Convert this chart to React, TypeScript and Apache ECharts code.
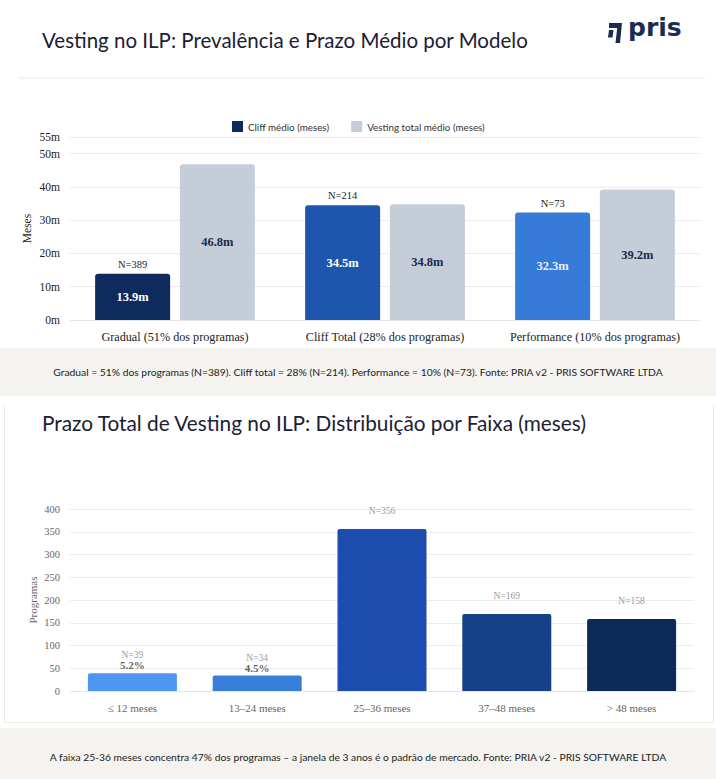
import React, { useEffect, useRef } from 'react';
import * as echarts from 'echarts';

// ---- Chart 1 data ----
const modelCategories = ['Gradual (51% dos programas)', 'Cliff Total (28% dos programas)', 'Performance (10% dos programas)'];
const cliffMedio = [13.9, 34.5, 32.3];
const vestingTotalMedio = [46.8, 34.8, 39.2];
const modelN = [389, 214, 73];
const cliffColors = ['#0f2a5c', '#1e55ad', '#377bd8'];
const cliffLabelColors = ['#ffffff', '#ffffff', '#e6eefa'];

// ---- Chart 2 data ----
const faixaCategories = ['≤ 12 meses', '13–24 meses', '25–36 meses', '37–48 meses', '> 48 meses'];
const faixaProgramas = [39, 34, 356, 169, 158];
const faixaPct = ['5.2%', '4.5%', '', '', ''];
const faixaColors = ['#4f95f2', '#377dd9', '#1d4dae', '#154189', '#0e2a58'];

const SERIF = 'Liberation Serif';
const SANS = 'Lato';

export default function App() {
  const ref = useRef<HTMLDivElement>(null);

  useEffect(() => {
    document.body.style.margin = '0';
    if (!ref.current) return;
    const chart = echarts.init(ref.current, undefined, { renderer: 'svg' });

    const option: any = {
      animation: false,
      textStyle: { fontFamily: SERIF },
      legend: {
        data: ['Cliff médio (meses)', 'Vesting total médio (meses)'],
        left: 227,
        top: 116,
        itemWidth: 11,
        itemHeight: 11,
        itemGap: 22,
        icon: 'rect',
        textStyle: { fontFamily: SANS, fontSize: 9.8, color: '#333' },
      },
      grid: [
        { left: 70, right: 16, top: 137, height: 183 },
        { left: 70, right: 22, top: 509, height: 182 },
      ],
      xAxis: [
        {
          type: 'category',
          gridIndex: 0,
          data: modelCategories,
          axisTick: { show: false },
          axisLine: { lineStyle: { color: '#e6e6e6' } },
          axisLabel: { color: '#222', fontSize: 12.2, margin: 11, interval: 0, fontFamily: SERIF },
        },
        {
          type: 'category',
          gridIndex: 1,
          data: faixaCategories,
          axisTick: { show: false },
          axisLine: { lineStyle: { color: '#e6e6e6' } },
          axisLabel: { color: '#666', fontSize: 11, margin: 11, interval: 0, fontFamily: SERIF },
        },
      ],
      yAxis: [
        {
          type: 'value',
          gridIndex: 0,
          min: 0,
          max: 55,
          interval: 10,
          name: 'Meses',
          nameLocation: 'middle',
          nameGap: 37,
          nameMoveOverlap: false,
          nameTextStyle: { color: '#222', fontSize: 11.5, fontFamily: SERIF },
          axisLabel: { formatter: '{value}m', color: '#222', fontSize: 11.5, margin: 10, fontFamily: SERIF },
          splitLine: { lineStyle: { color: '#ececec' } },
        },
        {
          type: 'value',
          gridIndex: 1,
          min: 0,
          max: 400,
          interval: 50,
          name: 'Programas',
          nameLocation: 'middle',
          nameGap: 32,
          nameMoveOverlap: false,
          nameTextStyle: { color: '#666', fontSize: 11, fontFamily: SERIF },
          axisLabel: { color: '#666', fontSize: 10.5, margin: 10, fontFamily: SERIF },
          splitLine: { lineStyle: { color: '#ececec' } },
        },
      ],
      series: [
        {
          name: 'Cliff médio (meses)',
          type: 'bar',
          xAxisIndex: 0,
          yAxisIndex: 0,
          stack: 'cliff',
          barWidth: 75,
          barGap: '13%',
          itemStyle: { color: cliffColors[0], borderRadius: [3, 3, 0, 0] },
          data: cliffMedio.map((v, i) => ({
            value: v,
            itemStyle: { color: cliffColors[i] },
            label: { color: cliffLabelColors[i] },
          })),
          label: {
            show: true,
            position: 'inside',
            formatter: (p: any) => `${p.value}m`,
            fontSize: 12.5,
            fontWeight: 'bold',
            fontFamily: SERIF,
          },
        },
        {
          name: 'Vesting total médio (meses)',
          type: 'bar',
          xAxisIndex: 0,
          yAxisIndex: 0,
          stack: 'vesting',
          barWidth: 75,
          barGap: '13%',
          itemStyle: { color: '#c5cdd8', borderRadius: [3, 3, 0, 0] },
          data: vestingTotalMedio,
          label: {
            show: true,
            position: 'inside',
            formatter: (p: any) => `${p.value}m`,
            color: '#1e2a4a',
            fontSize: 12.5,
            fontWeight: 'bold',
            fontFamily: SERIF,
          },
        },
        {
          name: 'nCliff',
          type: 'bar',
          xAxisIndex: 0,
          yAxisIndex: 0,
          stack: 'cliff',
          barWidth: 75,
          barGap: '13%',
          itemStyle: { color: 'transparent' },
          data: modelN.map(() => 0),
          label: {
            show: true,
            position: 'top',
            distance: 4,
            formatter: (p: any) => `N=${modelN[p.dataIndex]}`,
            color: '#222',
            fontSize: 10.5,
            fontFamily: SERIF,
          },
        },
        {
          name: 'Programas',
          type: 'bar',
          xAxisIndex: 1,
          yAxisIndex: 1,
          barWidth: 89,
          data: faixaProgramas.map((v, i) => ({ value: v, itemStyle: { color: faixaColors[i] } })),
          itemStyle: { borderRadius: [2, 2, 0, 0] },
          label: {
            show: true,
            position: 'top',
            distance: 3,
            formatter: (p: any) => {
              const pct = faixaPct[p.dataIndex];
              return `{n|N=${p.value}}\n{p|${pct ? pct : ' '}}`;
            },
            rich: {
              n: { color: '#9a9a9a', fontSize: 9.5, lineHeight: 10, fontFamily: SERIF },
              p: { color: '#666', fontSize: 11, fontWeight: 'bold', lineHeight: 10, fontFamily: SERIF },
            },
          },
        },
      ],
      graphic: [
        {
          type: 'text',
          left: 42,
          top: 29,
          style: { text: 'Vesting no ILP: Prevalência e Prazo Médio por Modelo', fontFamily: SANS, fontSize: 20.5, fill: '#1c2033' },
        },
        {
          type: 'line',
          shape: { x1: 18, y1: 78, x2: 705, y2: 78 },
          style: { stroke: '#e8e8e8', lineWidth: 1 },
        },
        {
          type: 'polygon',
          shape: { points: [[609, 23], [622, 23], [620, 43], [615.5, 43], [617.2, 28], [609, 28]] },
          style: { fill: '#1b2b52' },
        },
        {
          type: 'polygon',
          shape: { points: [[609, 30], [613.5, 30], [612.5, 37.5], [608, 37.5]] },
          style: { fill: '#1b2b52' },
        },
        {
          type: 'text',
          left: 628,
          top: 15,
          style: { text: 'pris', fontFamily: 'DejaVu Sans', fontWeight: 'bold', fontSize: 25, fill: '#1b2b52' },
        },
        {
          type: 'text',
          x: 358,
          y: 372,
          style: {
            text: 'Gradual = 51% dos programas (N=389). Cliff total = 28% (N=214). Performance = 10% (N=73). Fonte: PRIA v2 - PRIS SOFTWARE LTDA',
            fontFamily: SANS,
            fontSize: 10.3,
            fill: '#222',
            align: 'center',
            verticalAlign: 'middle',
          },
        },
        {
          type: 'text',
          left: 42,
          top: 412,
          style: { text: 'Prazo Total de Vesting no ILP: Distribuição por Faixa (meses)', fontFamily: SANS, fontSize: 20.8, fill: '#1c2033' },
        },
        {
          type: 'text',
          x: 358,
          y: 757,
          style: {
            text: 'A faixa 25-36 meses concentra 47% dos programas – a janela de 3 anos é o padrão de mercado. Fonte: PRIA v2 - PRIS SOFTWARE LTDA',
            fontFamily: SANS,
            fontSize: 10.3,
            fill: '#222',
            align: 'center',
            verticalAlign: 'middle',
          },
        },
      ],
    };

    chart.setOption(option);
    return () => chart.dispose();
  }, []);

  return (
    <div style={{ position: 'absolute', left: 0, top: 0, width: 716, height: 779, background: '#f4f3ef', overflow: 'hidden' }}>
      <div style={{ position: 'absolute', left: 0, top: 0, width: 716, height: 348, background: '#ffffff' }} />
      <div style={{ position: 'absolute', left: 0, top: 396, width: 716, height: 332, background: '#ffffff' }} />
      <div
        style={{
          position: 'absolute',
          left: 4,
          top: 406,
          width: 708,
          height: 316,
          background: '#ffffff',
          borderLeft: '1px solid #ebebeb',
          borderRight: '1px solid #ebebeb',
          borderBottom: '1px solid #ebebeb',
        }}
      />
      <div ref={ref} style={{ position: 'absolute', left: 0, top: 0, width: 716, height: 779 }} />
    </div>
  );
}
